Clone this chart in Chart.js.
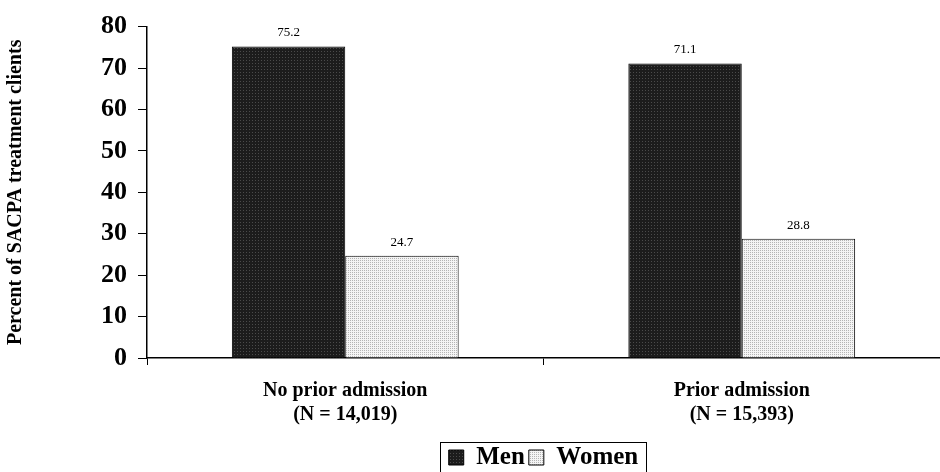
<!DOCTYPE html>
<html>
<head>
<meta charset="utf-8">
<script src="https://cdn.jsdelivr.net/npm/chart.js@4.4.0/dist/chart.umd.min.js"></script>
<style>
  html, body { margin: 0; padding: 0; background: #fff; }
  #wrap { width: 940px; height: 472px; }
</style>
</head>
<body>
<div id="wrap"><canvas id="chart" width="940" height="472"></canvas></div>
<script>
// chart data
var categories = [["No prior admission", "(N = 14,019)"], ["Prior admission", "(N = 15,393)"]];
var menValues = [75.2, 71.1];
var womenValues = [24.7, 28.8];
var yTicks = [0, 10, 20, 30, 40, 50, 60, 70, 80];

var serif = "'Liberation Serif', 'Times New Roman', serif";

// fill patterns like the old office charts
function makePattern(base, dot, size) {
	var c = document.createElement("canvas");
	c.width = size; c.height = size;
	var g = c.getContext("2d");
	g.fillStyle = base;
	g.fillRect(0, 0, size, size);
	g.fillStyle = dot;
	g.fillRect(0, 0, 1, 1);
	return g.createPattern(c, "repeat");
}
var ctx = document.getElementById("chart").getContext("2d");
var menFill = makePattern("#1c1c1c", "#4a4a4a", 3);
var womenFill = makePattern("#f4f4f4", "#b4b4b4", 2);

// value labels on top of the bars
var valueLabels = {
	id: "valueLabels",
	afterDatasetsDraw: function(chart) {
		var c = chart.ctx;
		c.save();
		c.font = "13px " + serif;
		c.fillStyle = "#000";
		c.textAlign = "center";
		c.textBaseline = "bottom";
		chart.data.datasets.forEach(function(ds, i) {
			chart.getDatasetMeta(i).data.forEach(function(bar, j) {
				c.fillText(ds.data[j].toFixed(1), bar.x, bar.y - 7);
			});
		});
		c.restore();
	}
};

// frame round the legend
var legendBox = {
	id: "legendBox",
	afterDraw: function(chart) {
		var l = chart.legend;
		var c = chart.ctx;
		var first = l.legendHitBoxes[0];
		var last = l.legendHitBoxes[l.legendHitBoxes.length - 1];
		var left = first.left - 9;
		var right = last.left + last.width + 7;
		var top = first.top + first.height / 2 - 16;
		c.save();
		c.strokeStyle = "#000";
		c.lineWidth = 1;
		c.strokeRect(Math.round(left) + 0.5, Math.round(top) + 0.5, Math.round(right - left), 40);
		c.restore();
	}
};

var chart = new Chart(ctx, {
	type: "bar",
	data: {
		labels: categories,
		datasets: [
			{
				label: "Men",
				data: menValues,
				backgroundColor: menFill,
				borderColor: "#000",
				borderWidth: 1,
				categoryPercentage: 0.572,
				barPercentage: 1
			},
			{
				label: "Women",
				data: womenValues,
				backgroundColor: womenFill,
				borderColor: "#000",
				borderWidth: 1,
				categoryPercentage: 0.572,
				barPercentage: 1
			}
		]
	},
	options: {
		responsive: false,
		animation: false,
		layout: { padding: { top: 13, right: -11, left: 4, bottom: -8 } },
		plugins: {
			tooltip: { enabled: false },
			legend: {
				position: "bottom",
				fullSize: false,
				labels: {
					font: { family: serif, size: 25, weight: "bold" },
					color: "#000",
					boxWidth: 15,
					boxHeight: 15,
					padding: 4
				}
			}
		},
		scales: {
			x: {
				grid: { display: true, drawOnChartArea: false, tickLength: 7, color: "#000", offset: true },
				border: { color: "#000", width: 1.5 },
				ticks: {
					font: { family: serif, size: 20, weight: "bold", lineHeight: 1.2 },
					color: "#000",
					padding: 14,
					maxRotation: 0
				}
			},
			y: {
				min: 0,
				max: 80,
				afterBuildTicks: function(scale) {
					scale.ticks = yTicks.map(function(v) { return { value: v }; });
				},
				grid: { display: true, drawOnChartArea: false, tickLength: 9, color: "#000" },
				border: { color: "#000", width: 1.5 },
				ticks: {
					font: { family: serif, size: 26, weight: "bold" },
					color: "#000",
					padding: 11
				},
				title: {
					display: true,
					text: "Percent of SACPA treatment clients",
					font: { family: serif, size: 20, weight: "bold" },
					color: "#000",
					padding: { top: 0, bottom: 62 }
				}
			}
		}
	},
	plugins: [valueLabels, legendBox]
});
</script>
</body>
</html>
